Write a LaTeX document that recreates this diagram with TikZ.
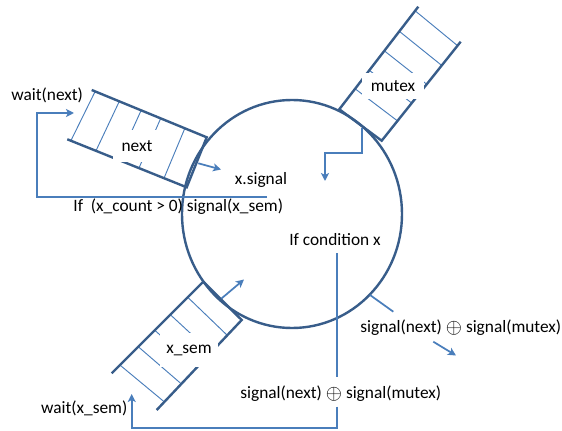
\documentclass[tikz,border=0pt]{standalone}
\usepackage{fontspec}
\setmainfont{Carlito}
\usetikzlibrary{calc,arrows.meta,shapes.geometric}
\definecolor{dkline}{HTML}{385D8A}
\definecolor{ltline}{HTML}{4A7EBB}
\newcommand{\xorsym}{\raisebox{-0.12ex}{\scalebox{1.3}{$\oplus$}}}
\begin{document}
\begin{tikzpicture}[x=0.75pt,y=-0.75pt,
  border/.style={draw=dkline,line width=1.8pt},
  divider/.style={draw=ltline,line width=0.7pt},
  conn/.style={draw=ltline,line width=1.3pt},
  arr/.style={conn,-{Stealth[length=6pt,width=6pt,inset=1.5pt]}},
  lbl/.style={font=\fontsize{13}{15}\selectfont,inner sep=1pt},
  qlbl/.style={lbl,fill=white}]
\useasboundingbox (0,0) rectangle (562,431);
\fill[white] (0,0) rectangle (562,431);
% next queue
\coordinate (nT1) at (206.7,137.3); \coordinate (nB1) at (186.7,187.3);
\coordinate (nT0) at (91.7,90); \coordinate (nB0) at (67.3,139.3);
\foreach \t in {0.19,0.4,0.57,0.76,0.97} \draw[divider] ($(nT1)!\t!(nT0)$) -- ($(nB1)!\t!(nB0)$);
\draw[border] (nT0) -- (nT1) -- (nB1) -- (nB0);
% mutex queue
\coordinate (mC1) at (339.3,109.3); \coordinate (mC2) at (381.7,140.7);
\coordinate (mO1) at (418.3,6.7); \coordinate (mO2) at (460.7,41.7);
\foreach \t in {0.2,0.38,0.57,0.76,0.96} \draw[divider] ($(mC1)!\t!(mO1)$) -- ($(mC2)!\t!(mO2)$);
\draw[border] (mO1) -- (mC1) -- (mC2) -- (mO2);
% x_sem queue
\coordinate (xC1) at (203.3,281.7); \coordinate (xC2) at (241.7,320);
\coordinate (xO1) at (111.7,373.3); \coordinate (xO2) at (156.7,410);
\foreach \t in {0.17,0.36,0.53,0.71,0.91} \draw[divider] ($(xC1)!\t!(xO1)$) -- ($(xC2)!\t!(xO2)$);
\draw[border] (xO1) -- (xC1) -- (xC2) -- (xO2);
% monitor
\node[ellipse,border,minimum width=165pt,minimum height=171pt,inner sep=0pt,outer sep=0pt] (mon) at (292,214) {};
% queue labels
\node[qlbl,minimum width=36pt,minimum height=24pt] (nextq) at (137,146) {next};
\node[qlbl,minimum width=46pt,minimum height=19pt] (mutexq) at (393,86) {mutex};
\node[qlbl,minimum width=43pt,minimum height=25pt] (xsemq) at (189,350) {x\_sem};
% labels
\node[lbl] (waitnext) at (47.2,95) {wait(next)};
\node[lbl] (xsig) at (261,180) {x.signal};
\node[lbl] (ifcount) at (178.3,207) {If\ \ (x\_count > 0) signal(x\_sem)};
\node[lbl] (ifcond) at (335,240) {If condition x};
\node[lbl] (waitxsem) at (84.2,408.3) {wait(x\_sem)};
\node[lbl] (sigR) at (460.8,327.3) {signal(next) \xorsym{} signal(mutex)};
\node[lbl] (sigB) at (340.8,393.3) {signal(next) \xorsym{} signal(mutex)};
% connectors
\coordinate (a1s) at (198.3,163.3); \coordinate (a1e) at (221,169.5);
\draw[arr] (a1s) -- (a1e);
\coordinate (wn1) at (267,197); \coordinate (wn2) at (37,113); \coordinate (wn3) at (74,113);
\draw[arr] (wn1) -| (wn2) -- (wn3);
\coordinate (mu1) at (361.7,128.3); \coordinate (mu2) at (325,181);
\draw[arr] (mu1) -- ++(0,25) -| (mu2);
\coordinate (xs1) at (221.7,298.3); \coordinate (xs2) at (244,279.5);
\draw[arr] (xs1) -- (xs2);
\coordinate (r1) at (370,295); \coordinate (r2) at (393.3,311.7);
\draw[conn] (r1) -- (r2);
\coordinate (r3) at (433.3,341.7); \coordinate (r4) at (456,355.5);
\draw[arr] (r3) -- (r4);
\coordinate (b1) at (336.7,253.3); \coordinate (b2) at (336.7,376.7);
\coordinate (b3) at (336.7,406.7); \coordinate (b4) at (131.7,394);
\draw[conn] (b1) -- (b2);
\draw[arr] (b3) |- (131.7,428.3) -- (b4);
\end{tikzpicture}
\end{document}
